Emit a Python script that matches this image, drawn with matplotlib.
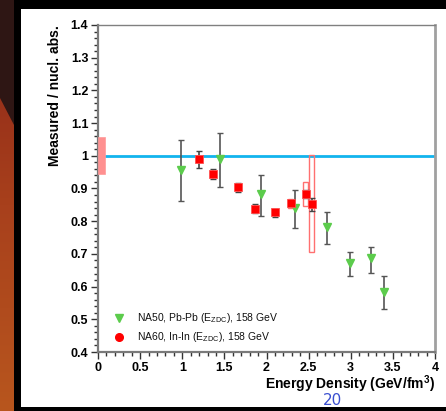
import numpy as np
import matplotlib
matplotlib.use("Agg")
import matplotlib.pyplot as plt
from matplotlib.patches import Rectangle, Polygon
from matplotlib.ticker import MultipleLocator, FuncFormatter
from matplotlib.colors import LinearSegmentedColormap

plt.rcParams['font.family'] = ['Liberation Sans', 'DejaVu Sans']

# NA50 Pb-Pb points
na50_x = [0.98, 1.45, 1.94, 2.34, 2.72, 2.99, 3.24, 3.39]
na50_y = [0.957, 0.989, 0.882, 0.841, 0.783, 0.671, 0.686, 0.583]
na50_lo = [0.862, 0.905, 0.815, 0.778, 0.729, 0.632, 0.643, 0.531]
na50_hi = [1.048, 1.071, 0.940, 0.894, 0.829, 0.705, 0.722, 0.632]

# NA60 In-In points
na60_x = [1.20, 1.365, 1.66, 1.865, 2.10, 2.285, 2.465, 2.535]
na60_y = [0.989, 0.944, 0.905, 0.837, 0.827, 0.855, 0.883, 0.852]
na60_lo = [0.962, 0.928, 0.889, 0.824, 0.812, 0.846, 0.870, 0.831]
na60_hi = [1.016, 0.961, 0.918, 0.852, 0.838, 0.864, 0.895, 0.872]

# NA60 systematic boxes (last three centrality bins)
sys_x = [2.285, 2.465, 2.535]
sys_lo = [0.839, 0.847, 0.705]
sys_hi = [0.867, 0.919, 1.002]
sys_w = 0.065

# global normalisation uncertainty
norm_lo, norm_hi = 0.943, 1.057
norm_w = 0.08

W, H = 446, 411
fig = plt.figure(figsize=(W / 100, H / 100), dpi=100)
fig.patch.set_facecolor('black')

# slide background: reddish strip at left edge
bg = fig.add_axes([0, 0, 1, 1], zorder=-10)
bg.set_xlim(0, W)
bg.set_ylim(H, 0)
bg.axis('off')
grad = np.linspace(0, 1, 256)[:, None]
cm = LinearSegmentedColormap.from_list('strip', ['#8a2418', '#a8401c', '#b8561e'])
bg.imshow(grad, extent=(0, 14, H, 0), aspect='auto', cmap=cm, zorder=0)
bg.add_patch(Polygon([(0, 0), (14, 0), (14, 125), (0, 98)], closed=True,
                     facecolor='#2e1614', edgecolor='none', zorder=1))
bg.add_patch(Rectangle((14, 0), 7, H, facecolor='black', edgecolor='none', zorder=2))
bg.add_patch(Rectangle((21, 9), W - 21, 398, facecolor='white', edgecolor='none', zorder=3))

ax = fig.add_axes([98 / W, 59 / H, 337 / W, 327 / H])
ax.set_facecolor('none')
ax.set_xlim(0, 4)
ax.set_ylim(0.4, 1.4)

# reference line
ax.axhline(1.0, color='#12b4ee', lw=2, zorder=2)

# normalisation box
ax.add_patch(Rectangle((0, norm_lo), norm_w, norm_hi - norm_lo,
                       facecolor='#ff9090', edgecolor='#ff9a9a', lw=0.5, zorder=3))

# systematic boxes
for xc, lo, hi in zip(sys_x, sys_lo, sys_hi):
    ax.add_patch(Rectangle((xc - sys_w / 2, lo), sys_w, hi - lo,
                           facecolor='none', edgecolor='#ff7070', lw=1.0, zorder=3))

na50_y_a = np.array(na50_y)
ax.errorbar(na50_x, na50_y,
            yerr=[na50_y_a - np.array(na50_lo), np.array(na50_hi) - na50_y_a],
            fmt='none', ecolor='#555555', elinewidth=1.2, capsize=2, capthick=1, zorder=4)
ax.plot(na50_x, na50_y, 'v', color='#5ccc4c', ms=6, mec='#5ccc4c', zorder=5)

na60_y_a = np.array(na60_y)
ax.errorbar(na60_x, na60_y,
            yerr=[na60_y_a - np.array(na60_lo), np.array(na60_hi) - na60_y_a],
            fmt='none', ecolor='#444444', elinewidth=1.2, capsize=2, capthick=1, zorder=4)
ax.plot(na60_x, na60_y, 's', color='#ff0000', ms=5.2, mec='#ff5050', mew=0.6, zorder=6)

# legend drawn as marker + text
ax.plot([0.25], [0.504], 'v', color='#5ccc4c', ms=5.5, clip_on=False, zorder=6)
ax.plot([0.25], [0.445], 'o', color='#ff0000', ms=5.5, clip_on=False, zorder=6)
ax.text(0.46, 0.504, r'NA50, Pb-Pb (E$_{\mathregular{ZDC}}$), 158 GeV', fontsize=7.5,
        va='center', ha='left', color='#111111')
ax.text(0.46, 0.447, r'NA60, In-In (E$_{\mathregular{ZDC}}$), 158 GeV', fontsize=7.5,
        va='center', ha='left', color='#111111')

# axes styling
for side in ['left', 'bottom']:
    ax.spines[side].set_color('#7a7a7a')
    ax.spines[side].set_linewidth(1.6)
ax.spines['top'].set_color('#808080')
ax.spines['top'].set_linewidth(1.0)
ax.spines['right'].set_color('#a0a0a0')
ax.spines['right'].set_linewidth(2.0)

ax.xaxis.set_major_locator(MultipleLocator(0.5))
ax.xaxis.set_minor_locator(MultipleLocator(0.1))
ax.yaxis.set_major_locator(MultipleLocator(0.1))
ax.yaxis.set_minor_locator(MultipleLocator(0.02))

def fmt(v, pos):
    s = f'{v:.1f}'
    return s[:-2] if s.endswith('.0') else s

ax.xaxis.set_major_formatter(FuncFormatter(fmt))
ax.yaxis.set_major_formatter(FuncFormatter(fmt))
ax.tick_params(which='major', direction='out', length=5, width=1, color='#333333',
               labelsize=9, pad=2)
ax.tick_params(which='minor', direction='out', length=3, width=1, color='#333333')
ax.tick_params(top=False, right=False, which='both')
for lbl in ax.get_xticklabels() + ax.get_yticklabels():
    lbl.set_fontweight('bold')

ax.set_ylabel('Measured / nucl. abs.', fontsize=10, fontweight='bold')
ax.yaxis.set_label_coords(-0.108, 1.0)
ax.yaxis.label.set_ha('right')
ax.set_xlabel(r'Energy Density (GeV/fm$^{\mathregular{3}}$)', fontsize=10,
              fontweight='bold', ha='right')
ax.xaxis.set_label_coords(1.0, -0.064)

# slide page number
fig.text(332 / W, 1 - 408 / H, '20', fontsize=11, color='#3a4fd0', ha='center',
         va='bottom', fontfamily='DejaVu Sans')

fig.savefig('out.png', dpi=100, facecolor=fig.get_facecolor())
